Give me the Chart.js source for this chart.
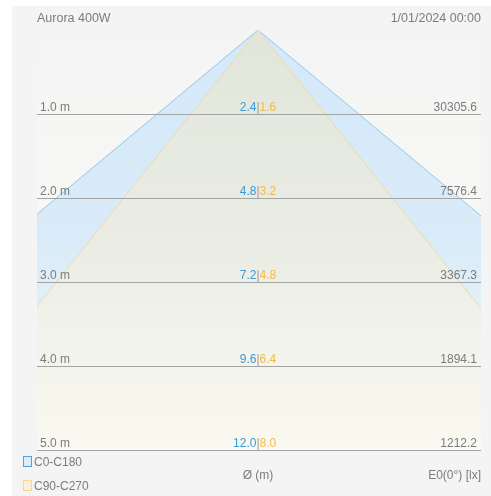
<!DOCTYPE html>
<html><head><meta charset="utf-8">
<script src="https://cdn.jsdelivr.net/npm/chart.js@4/dist/chart.umd.min.js"></script>
<style>html,body{margin:0;padding:0;background:#fff;} canvas{display:block}</style>
</head><body><canvas id="c" width="491" height="496"></canvas>
<script>
const titleText = 'Aurora 400W';
const timestamp = '1/01/2024 00:00';
const distances = [1, 2, 3, 4, 5];
const diamC0 = [2.4, 4.8, 7.2, 9.6, 12.0];
const diamC90 = [1.6, 3.2, 4.8, 6.4, 8.0];
const illum = ['30305.6', '7576.4', '3367.3', '1894.1', '1212.2'];
const distLabels = ['1.0 m', '2.0 m', '3.0 m', '4.0 m', '5.0 m'];
const seriesNames = ['C0-C180', 'C90-C270'];
const axisLabels = ['Ø (m)', 'E0(0°) [lx]'];

const last = distances.length - 1;
const maxD = distances[last];
function cone(diams) {
  return [{x: -diams[last] / 2, y: maxD}, {x: 0, y: 0}, {x: diams[last] / 2, y: maxD}];
}
const FONT = '"Liberation Sans", Arial, sans-serif';
const TXT = '#7c7c7c';

function grad(ctx, stops) {
  const ch = ctx.chart; const a = ch.chartArea;
  if (!a) return 'transparent';
  const g = ch.ctx.createLinearGradient(0, a.top, 0, a.bottom);
  stops.forEach(s => g.addColorStop(s[0], s[1]));
  return g;
}

const bgPlugin = {
  id: 'bg',
  beforeDraw(chart) {
    const c = chart.ctx, a = chart.chartArea;
    c.save();
    c.fillStyle = '#ffffff'; c.fillRect(0, 0, chart.width, chart.height);
    c.fillStyle = '#f4f4f4'; c.fillRect(12, 6, chart.width - 12, chart.height - 6);
    const g = c.createLinearGradient(0, a.top, 0, a.bottom);
    g.addColorStop(0, '#f4f4f4'); g.addColorStop(1, '#fbfbf6');
    c.fillStyle = g; c.fillRect(a.left, a.top, a.right - a.left, a.bottom - a.top);
    c.restore();
  },
  afterDatasetsDraw(chart) {
    const c = chart.ctx, a = chart.chartArea, xs = chart.scales.x, ys = chart.scales.y;
    c.save();
    c.font = '12px ' + FONT;
    c.textBaseline = 'alphabetic';
    const cx = xs.getPixelForValue(0);
    distances.forEach((d, i) => {
      const y = Math.round(ys.getPixelForValue(d)) + 0.5;
      c.strokeStyle = '#a3a3a3'; c.lineWidth = 1;
      c.beginPath(); c.moveTo(a.left, y); c.lineTo(a.right, y); c.stroke();
      c.fillStyle = TXT;
      c.textAlign = 'left'; c.fillText(distLabels[i], a.left + 3, y - 3.5);
      c.textAlign = 'right'; c.fillText(illum[i], a.right - 4, y - 3.5);
      const s1 = diamC0[i].toFixed(1), s2 = diamC90[i].toFixed(1);
      const wBar = c.measureText('|').width;
      c.textAlign = 'right'; c.fillStyle = '#3b9ad8'; c.fillText(s1, cx - wBar / 2, y - 3.5);
      c.textAlign = 'center'; c.fillStyle = '#9a9a9a'; c.fillText('|', cx, y - 3.5);
      c.textAlign = 'left'; c.fillStyle = '#f3b948'; c.fillText(s2, cx + wBar / 2, y - 3.5);
    });
    c.font = '12.5px ' + FONT;
    c.fillStyle = TXT;
    c.textAlign = 'left'; c.fillText(titleText, a.left, 22);
    c.textAlign = 'right'; c.fillText(timestamp, a.right, 22);
    c.font = '12px ' + FONT;
    c.textAlign = 'center'; c.fillText(axisLabels[0], cx, 479);
    c.textAlign = 'right'; c.fillText(axisLabels[1], a.right, 479);
    // legend
    c.textAlign = 'left';
    c.fillStyle = '#dcedf9'; c.fillRect(23.5, 456.5, 8, 10);
    c.strokeStyle = '#45a6e0'; c.lineWidth = 1; c.strokeRect(23.5, 456.5, 8, 10);
    c.fillStyle = TXT; c.fillText(seriesNames[0], 34, 466);
    c.fillStyle = '#fbefd6'; c.fillRect(23.5, 480.5, 8, 10);
    c.setLineDash([2, 1]); c.strokeStyle = '#f4c678'; c.strokeRect(23.5, 480.5, 8, 10);
    c.setLineDash([]);
    c.fillStyle = TXT; c.fillText(seriesNames[1], 34, 490);
    c.restore();
  }
};

new Chart(document.getElementById('c'), {
  type: 'scatter',
  data: {
    datasets: [
      {
        label: seriesNames[0], data: cone(diamC0), showLine: true, order: 2,
        borderColor: '#92c7ea', borderWidth: 1, pointRadius: 0, tension: 0,
        fill: {value: maxD},
        backgroundColor: ctx => grad(ctx, [[0, 'rgba(205,230,250,0.8)'], [0.5, 'rgba(205,230,250,0.7)'], [0.8, 'rgba(210,233,250,0.4)'], [1, 'rgba(220,238,250,0.1)']])
      },
      {
        label: seriesNames[1], data: cone(diamC90), showLine: true, order: 1,
        borderColor: '#efd9a6', borderWidth: 1, pointRadius: 0, tension: 0,
        fill: {value: maxD},
        backgroundColor: ctx => grad(ctx, [[0, 'rgba(226,229,215,0.92)'], [0.5, 'rgba(236,237,226,0.92)'], [1, 'rgba(250,249,240,0.92)']])
      }
    ]
  },
  options: {
    responsive: false, animation: false, devicePixelRatio: 1,
    layout: {padding: {left: 37, right: 10, top: 30, bottom: 46}},
    scales: {
      x: {type: 'linear', min: -2.631, max: 2.655, display: false},
      y: {type: 'linear', min: 0, max: 5, reverse: true, display: false}
    },
    plugins: {legend: {display: false}, tooltip: {enabled: false}}
  },
  plugins: [bgPlugin]
});
</script></body></html>
